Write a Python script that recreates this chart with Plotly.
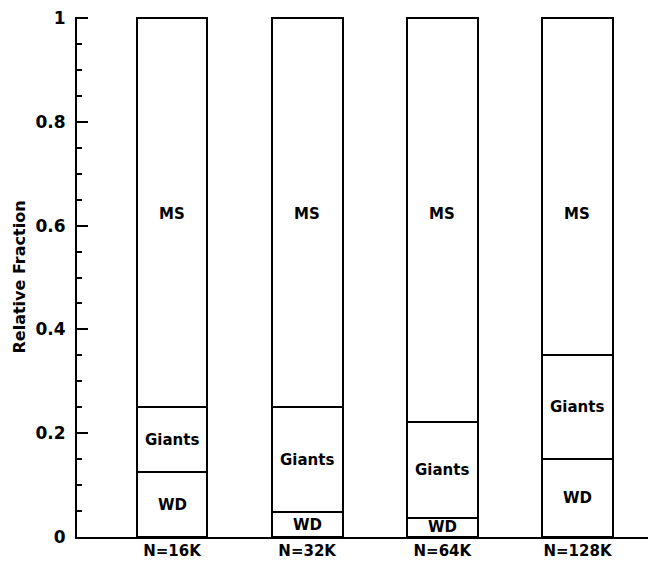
import plotly.graph_objects as go

categories = ["N=16K", "N=32K", "N=64K", "N=128K"]
wd = [0.125, 0.048, 0.037, 0.150]
giants = [0.125, 0.202, 0.184, 0.200]
ms = [0.750, 0.750, 0.779, 0.650]

FONT = "DejaVu Sans"
xs = list(range(len(categories)))

fig = go.Figure()
for name, vals in [("WD", wd), ("Giants", giants), ("MS", ms)]:
    fig.add_trace(go.Bar(
        x=xs, y=vals, name=name, width=0.525,
        marker=dict(color="white", line=dict(color="black", width=2)),
        hoverinfo="skip", showlegend=False,
    ))

ann = []
for i in xs:
    ann.append(dict(x=i, y=wd[i] / 2, text="WD"))
    ann.append(dict(x=i, y=wd[i] + giants[i] / 2, text="Giants"))
    ann.append(dict(x=i, y=0.623, text="MS"))
for a in ann:
    a.update(xref="x", yref="y", showarrow=False,
             font=dict(family=FONT, size=15, color="black", weight="bold"))

# page body has an 8px default margin; size the figure to fit the window
fig.update_layout(
    width=648, height=553,
    margin=dict(l=69, r=0, t=9, b=24),
    barmode="stack", bargap=0,
    plot_bgcolor="white", paper_bgcolor="white",
    annotations=ann,
    font=dict(family=FONT, color="black"),
)
fig.update_xaxes(
    range=[-0.703, 3.581], tickmode="array", tickvals=xs,
    ticktext=categories,
    tickfont=dict(family=FONT, size=15, color="black", weight="bold"),
    showline=True, linecolor="black", linewidth=2,
    showgrid=False, zeroline=False, ticks="", automargin=False,
    ticklabelstandoff=-1, ticklabeloverflow="allow",
)
fig.update_yaxes(
    range=[0, 1.002], tickmode="array",
    tickvals=[0, 0.2, 0.4, 0.6, 0.8, 1.0], ticktext=["0", "0.2", "0.4", "0.6", "0.8", "1"],
    ticks="inside", ticklen=11, tickwidth=2, tickcolor="black",
    minor=dict(ticks="inside", ticklen=5, tickwidth=2, tickcolor="black", dtick=0.05, tick0=0, showgrid=False),
    showline=True, linecolor="black", linewidth=2,
    showgrid=False, zeroline=False, automargin=False,
    tickfont=dict(family=FONT, size=17, color="black", weight="bold"),
    ticklabelstandoff=6, ticklabeloverflow="allow",
    title=dict(text="Relative Fraction", font=dict(family=FONT, size=16, color="black", weight="bold"), standoff=6),
)

fig.write_html("out.html")
